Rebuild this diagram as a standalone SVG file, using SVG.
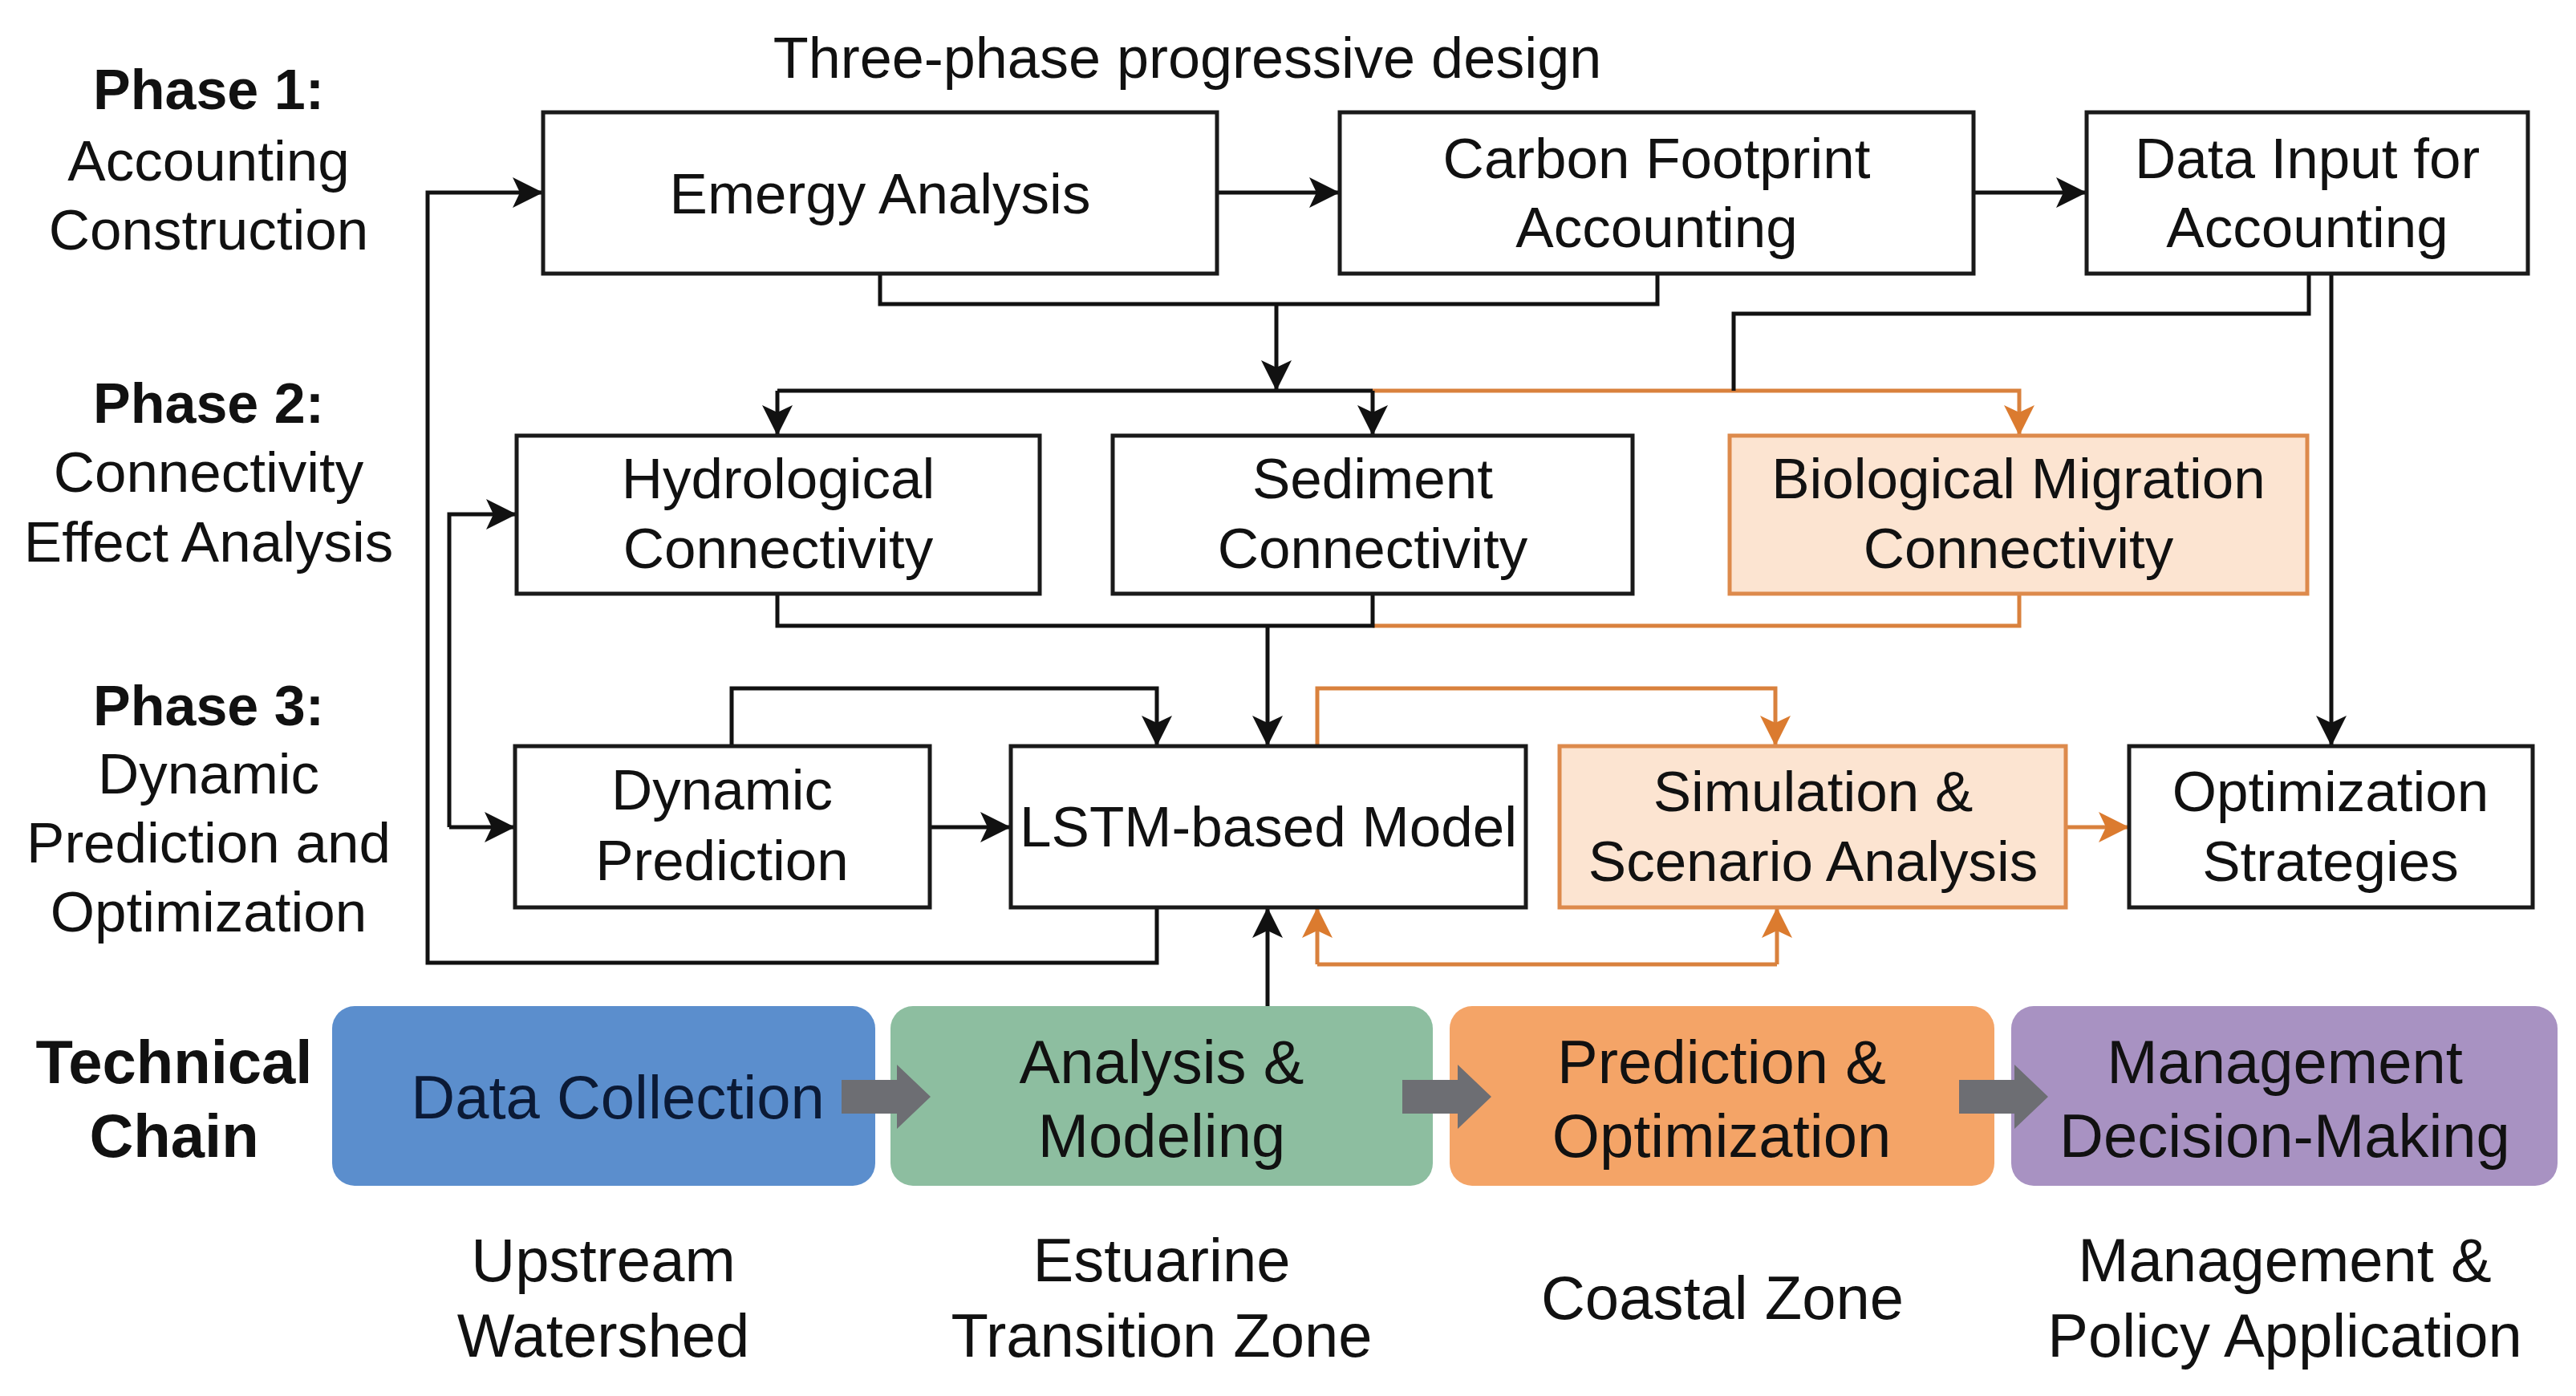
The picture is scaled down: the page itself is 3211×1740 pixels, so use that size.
<svg xmlns="http://www.w3.org/2000/svg" width="3211" height="1740" viewBox="0 0 3211 1740">
<style>
text{font-family:"Liberation Sans",Arial,Helvetica,sans-serif;fill:#111;text-anchor:middle}
.lbl{font-size:71px}
.bold{font-weight:bold;font-size:70px}
.node rect{fill:#fff;stroke:#1a1a1a;stroke-width:5}
.node.hl rect{fill:#fce4d1;stroke:#dd8a4c}
.nt{font-size:71px}
.chain rect{stroke:none}
.ct{font-size:76px}
.c{fill:none;stroke:#111;stroke-width:5}
.o{fill:none;stroke:#d9813d;stroke-width:5}
.blk{fill:#6d6e73}
</style>
<defs>
<marker id="ab" viewBox="0 0 38 38" markerWidth="38" markerHeight="38" refX="38" refY="19" orient="auto" markerUnits="userSpaceOnUse"><path d="M0,0 L38,19 L0,38 L9,19 z" fill="#111"/></marker>
<marker id="ao" viewBox="0 0 38 38" markerWidth="38" markerHeight="38" refX="38" refY="19" orient="auto" markerUnits="userSpaceOnUse"><path d="M0,0 L38,19 L0,38 L9,19 z" fill="#db7b2f"/></marker>
</defs>
<rect width="3211" height="1740" fill="#fff"/>

<g id="labels">
<text x="1480" y="97" style="font-size:72px">Three-phase progressive design</text>
<text class="bold" x="260" y="136">Phase 1:</text>
<text class="lbl" x="260" y="225">Accounting</text>
<text class="lbl" x="260" y="311">Construction</text>
<text class="bold" x="260" y="527">Phase 2:</text>
<text class="lbl" x="260" y="613">Connectivity</text>
<text class="lbl" x="260" y="700">Effect Analysis</text>
<text class="bold" x="260" y="904">Phase 3:</text>
<text class="lbl" x="260" y="989">Dynamic</text>
<text class="lbl" x="260" y="1075">Prediction and</text>
<text class="lbl" x="260" y="1161">Optimization</text>
<text x="217" y="1350" style="font-size:76px;font-weight:bold">Technical</text>
<text x="217" y="1442" style="font-size:76px;font-weight:bold">Chain</text>
<text class="ct" x="752" y="1597">Upstream</text>
<text class="ct" x="752" y="1691">Watershed</text>
<text class="ct" x="1448" y="1597">Estuarine</text>
<text class="ct" x="1448" y="1691">Transition Zone</text>
<text class="ct" x="2147" y="1644">Coastal Zone</text>
<text class="ct" x="2848" y="1597">Management &amp;</text>
<text class="ct" x="2848" y="1691">Policy Application</text>
</g>

<g id="connectors">
<path class="c" d="M1517,240 H1670" marker-end="url(#ab)"/>
<path class="c" d="M2460,240 H2601" marker-end="url(#ab)"/>
<path class="c" d="M1097,341 V379 H2066 V341"/>
<path class="c" d="M1591,379 V487" marker-end="url(#ab)"/>
<path class="o" d="M1711,487 H2517 V543" marker-end="url(#ao)"/>
<path class="c" d="M969,487 H1711"/>
<path class="c" d="M969,487 V543" marker-end="url(#ab)"/>
<path class="c" d="M1711,487 V543" marker-end="url(#ab)"/>
<path class="c" d="M2878,341 V391 H2161 V487"/>
<path class="c" d="M2906,341 V930" marker-end="url(#ab)"/>
<path class="o" d="M1711,780 H2517 V740"/>
<path class="c" d="M969,740 V780 H1711 V740"/>
<path class="c" d="M1580,780 V930" marker-end="url(#ab)"/>
<path class="c" d="M912,930 V858 H1442 V930" marker-end="url(#ab)"/>
<path class="c" d="M1159,1031 H1260" marker-end="url(#ab)"/>
<path class="c" d="M1442,1131 V1200 H533 V240 H677" marker-end="url(#ab)"/>
<path class="c" d="M560,1031 V641 H644" marker-end="url(#ab)"/>
<path class="c" d="M560,1031 H642" marker-end="url(#ab)"/>
<path class="o" d="M1642,930 V858 H2213 V930" marker-end="url(#ao)"/>
<path class="o" d="M1642,1202 H2215"/>
<path class="o" d="M1642,1202 V1131" marker-end="url(#ao)"/>
<path class="o" d="M2215,1202 V1131" marker-end="url(#ao)"/>
<path class="o" d="M2575,1031 H2654" marker-end="url(#ao)"/>
<path class="c" d="M1580,1254 V1131" marker-end="url(#ab)"/>
</g>

<g id="n-emergy" class="node"><rect x="677" y="140" width="840" height="201"/><text class="nt" x="1097" y="266">Emergy Analysis</text></g>
<g id="n-carbon" class="node"><rect x="1670" y="140" width="790" height="201"/><text class="nt" x="2065" y="222">Carbon Footprint</text><text class="nt" x="2065" y="308">Accounting</text></g>
<g id="n-datainput" class="node"><rect x="2601" y="140" width="550" height="201"/><text class="nt" x="2876" y="222">Data Input for</text><text class="nt" x="2876" y="308">Accounting</text></g>
<g id="n-hydro" class="node"><rect x="644" y="543" width="652" height="197"/><text class="nt" x="970" y="621">Hydrological</text><text class="nt" x="970" y="708">Connectivity</text></g>
<g id="n-sediment" class="node"><rect x="1387" y="543" width="648" height="197"/><text class="nt" x="1711" y="621">Sediment</text><text class="nt" x="1711" y="708">Connectivity</text></g>
<g id="n-bio" class="node hl"><rect x="2156" y="543" width="720" height="197"/><text class="nt" x="2516" y="621">Biological Migration</text><text class="nt" x="2516" y="708">Connectivity</text></g>
<g id="n-dynamic" class="node"><rect x="642" y="930" width="517" height="201"/><text class="nt" x="900" y="1009">Dynamic</text><text class="nt" x="900" y="1097">Prediction</text></g>
<g id="n-lstm" class="node"><rect x="1260" y="930" width="642" height="201"/><text class="nt" x="1581" y="1055" textLength="620" lengthAdjust="spacingAndGlyphs">LSTM-based Model</text></g>
<g id="n-sim" class="node hl"><rect x="1944" y="930" width="631" height="201"/><text class="nt" x="2260" y="1011">Simulation &amp;</text><text class="nt" x="2260" y="1098">Scenario Analysis</text></g>
<g id="n-opt" class="node"><rect x="2654" y="930" width="503" height="201"/><text class="nt" x="2905" y="1011">Optimization</text><text class="nt" x="2905" y="1098">Strategies</text></g>

<g id="n-chain-data" class="chain"><rect x="414" y="1254" width="677" height="224" rx="28" fill="#5b8ecd"/><text class="ct" x="770" y="1394" style="fill:#0b1a36">Data Collection</text></g>
<g id="n-chain-analysis" class="chain"><rect x="1110" y="1254" width="676" height="224" rx="28" fill="#8dbea0"/><text class="ct" x="1448" y="1350">Analysis &amp;</text><text class="ct" x="1448" y="1442">Modeling</text></g>
<g id="n-chain-pred" class="chain"><rect x="1807" y="1254" width="679" height="224" rx="28" fill="#f4a467"/><text class="ct" x="2146" y="1350">Prediction &amp;</text><text class="ct" x="2146" y="1442">Optimization</text></g>
<g id="n-chain-mgmt" class="chain"><rect x="2507" y="1254" width="681" height="224" rx="28" fill="#a892c2"/><text class="ct" x="2848" y="1350">Management</text><text class="ct" x="2848" y="1442">Decision-Making</text></g>

<g id="chain-arrows">
<path class="blk" d="M1049,1346 H1118 V1327 L1160,1367 L1118,1407 V1388 H1049 z"/>
<path class="blk" d="M1748,1346 H1817 V1327 L1859,1367 L1817,1407 V1388 H1748 z"/>
<path class="blk" d="M2442,1346 H2511 V1327 L2553,1367 L2511,1407 V1388 H2442 z"/>
</g>
</svg>
